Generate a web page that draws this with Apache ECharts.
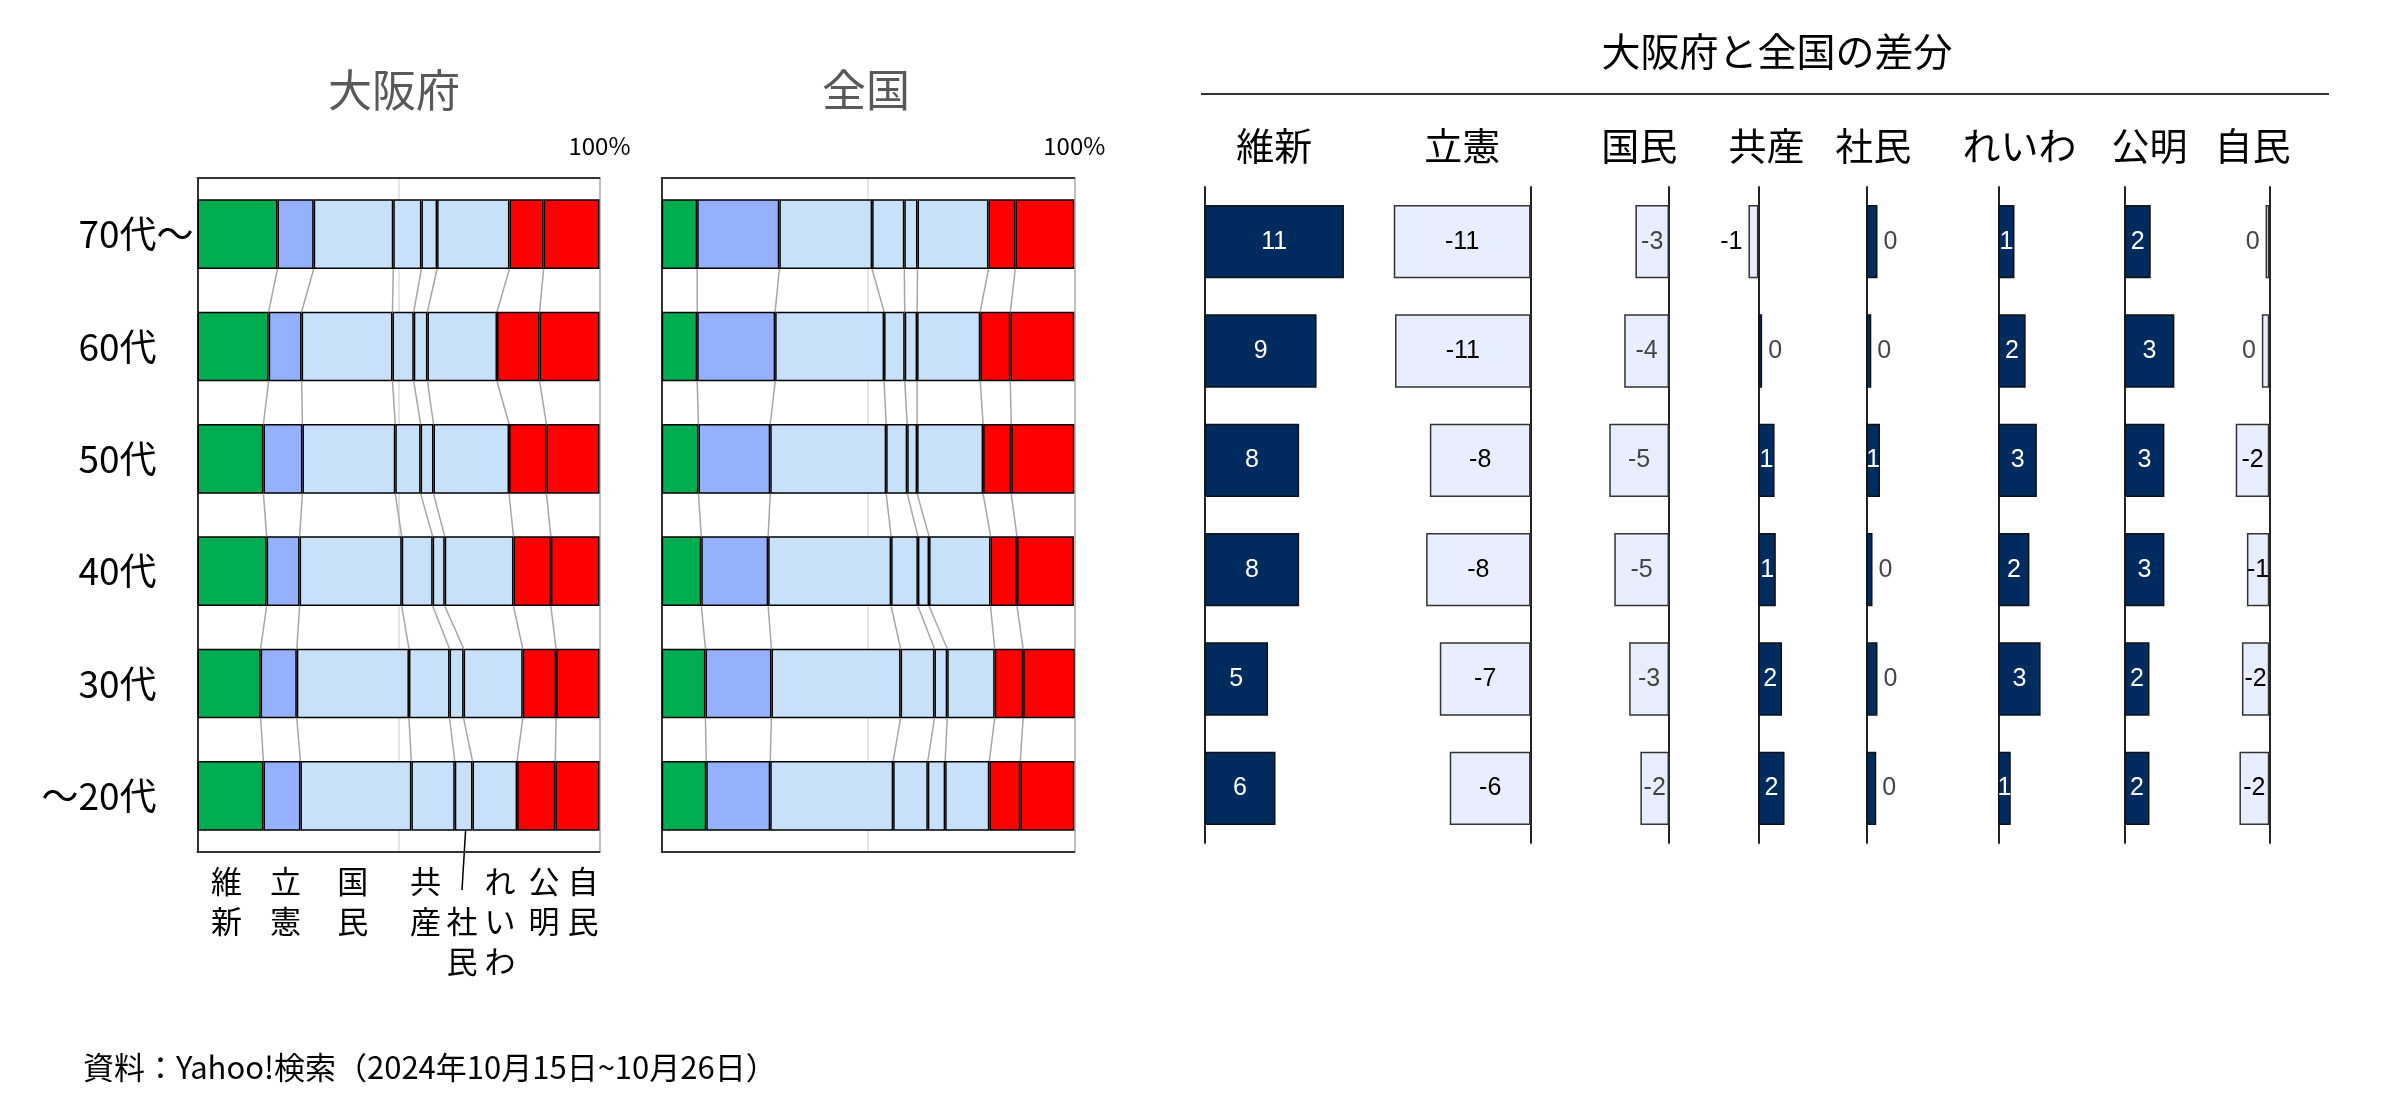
<!DOCTYPE html>
<html>
<head>
<meta charset="utf-8">
<script src="https://cdn.jsdelivr.net/npm/echarts@6/dist/echarts.min.js"></script>
<style>
  body { margin: 0; background: #fff; }
  #chart { width: 2400px; height: 1100px; }
</style>
</head>
<body>
<div id="chart"></div>
<script>
var ages = ['70代～', '60代', '50代', '40代', '30代', '～20代'];
var parties = ['維新', '立憲', '国民', '共産', '社民', 'れいわ', '公明', '自民'];
var partyColors = ['#00AC50', '#94B0FF', '#C8E1FA', '#C8E1FA', '#C8E1FA', '#C8E1FA', '#FF0000', '#FF0000'];

// 大阪府: share of searches by age (%), 70代～ ... ～20代
var osakaIshin  = [19.9, 17.7, 16.4, 17.2, 15.7, 16.4];
var osakaRikken = [9.0, 8.2, 9.7, 8.2, 9.0, 9.2];
var osakaKokumin = [19.8, 22.6, 23.1, 25.4, 27.9, 27.6];
var osakaKyosan = [7.0, 5.3, 6.3, 7.7, 10.1, 10.8];
var osakaShamin = [3.9, 3.4, 3.2, 3.0, 3.5, 4.4];
var osakaReiwa  = [18.0, 17.3, 18.8, 17.1, 14.7, 11.1];
var osakaKomei  = [8.5, 10.6, 9.3, 9.3, 8.3, 9.5];
var osakaJimin  = [13.9, 14.9, 13.2, 12.1, 10.8, 11.0];

// 全国
var zenIshin  = [8.6, 8.6, 8.9, 9.6, 10.6, 10.8];
var zenRikken = [19.9, 18.9, 17.4, 16.2, 16.0, 15.5];
var zenKokumin = [22.5, 26.4, 28.1, 29.8, 31.3, 29.8];
var zenKyosan = [7.8, 5.0, 5.1, 6.5, 8.2, 8.4];
var zenShamin = [3.2, 3.0, 2.4, 2.7, 3.1, 4.2];
var zenReiwa  = [17.2, 15.3, 16.0, 14.9, 11.5, 10.7];
var zenKomei  = [6.5, 7.3, 6.8, 6.4, 6.9, 7.5];
var zenJimin  = [14.3, 15.5, 15.3, 13.8, 12.5, 13.1];

// 大阪府と全国の差分 (points) as drawn, and the numbers printed on the bars
var diffIshin  = [11.2, 9.0, 7.6, 7.6, 5.1, 5.7];
var diffRikken = [-11.0, -10.9, -8.1, -8.4, -7.3, -6.5];
var diffKokumin = [-2.7, -3.6, -4.8, -4.4, -3.2, -2.3];
var diffKyosan = [-0.8, 0.3, 1.3, 1.4, 1.9, 2.1];
var diffShamin = [0.9, 0.4, 1.1, 0.5, 0.9, 0.8];
var diffReiwa  = [1.3, 2.2, 3.1, 2.5, 3.4, 1.0];
var diffKomei  = [2.1, 4.0, 3.2, 3.2, 2.0, 2.0];
var diffJimin  = [-0.3, -0.6, -2.7, -1.8, -2.2, -2.4];

var labelIshin  = [11, 9, 8, 8, 5, 6];
var labelRikken = [-11, -11, -8, -8, -7, -6];
var labelKokumin = [-3, -4, -5, -5, -3, -2];
var labelKyosan = [-1, 0, 1, 1, 2, 2];
var labelShamin = [0, 0, 1, 0, 0, 0];
var labelReiwa  = [1, 2, 3, 2, 3, 1];
var labelKomei  = [2, 3, 3, 3, 2, 2];
var labelJimin  = [0, 0, -2, -1, -2, -2];

var osakaShares = [osakaIshin, osakaRikken, osakaKokumin, osakaKyosan, osakaShamin, osakaReiwa, osakaKomei, osakaJimin];
var zenShares = [zenIshin, zenRikken, zenKokumin, zenKyosan, zenShamin, zenReiwa, zenKomei, zenJimin];
var diffs = [diffIshin, diffRikken, diffKokumin, diffKyosan, diffShamin, diffReiwa, diffKomei, diffJimin];
var diffLabels = [labelIshin, labelRikken, labelKokumin, labelKyosan, labelShamin, labelReiwa, labelKomei, labelJimin];

var JP = "'Noto Sans CJK JP', sans-serif";
var LATIN = "'Liberation Sans', Arial, sans-serif";
var BAR_RATIO = 0.62;
var UNIT = 12.44;          // px per point in the difference panels
var diffZeroX = [1204.6, 1530.6, 1669, 1758.4, 1866.3, 1998.3, 2124.6, 2269.3];
var POS = '#002B5E', NEG = '#E8EEFF';

var chart = echarts.init(document.getElementById('chart'));

var grids = [
    {left: 197.5, top: 178, width: 402, height: 674},
    {left: 661.7, top: 178, width: 412.6, height: 674}
];
var xAxes = [], yAxes = [], series = [];

// boundaries between neighbouring bars, joined by grey lines
function connectorData(shares) {
    var out = [];
    for (var i = 0; i < ages.length - 1; i++) {
        var a = 0, b = 0;
        for (var p = 0; p < parties.length - 1; p++) {
            a += shares[p][i];
            b += shares[p][i + 1];
            out.push([a, b, i]);
        }
    }
    return out;
}

function renderConnector(params, api) {
    var p0 = api.coord([api.value(0), api.value(2)]);
    var p1 = api.coord([api.value(1), api.value(2) + 1]);
    var half = api.size([0, 1])[1] * BAR_RATIO / 2;
    return {
        type: 'line',
        shape: {x1: p0[0], y1: p0[1] + half, x2: p1[0], y2: p1[1] - half},
        style: {stroke: '#A6A6A6', lineWidth: 1.5}
    };
}

// age label: a trailing ～ hangs past the right edge shared by the others
function ageLabel(v) {
    if (v.charAt(v.length - 1) === '～') {
        return '{n|' + v.slice(0, -1) + '}{t|～}';
    }
    return '{p|' + v + '}';
}

[osakaShares, zenShares].forEach(function (shares, g) {
    xAxes.push({
        gridIndex: g, type: 'value', position: 'top', min: 0, max: 100, interval: 50,
        axisLine: {show: true, lineStyle: {color: '#333', width: 2}},
        axisTick: {show: false},
        axisLabel: {
            margin: 20, fontSize: 24, color: '#000', fontFamily: JP,
            formatter: function (v) { return v === 100 ? '100%' : ''; }
        },
        splitLine: {show: true, lineStyle: {color: ['#ccc', '#dcdcdc', '#aaa'], width: 1.5}}
    });
    xAxes.push({
        gridIndex: g, type: 'value', position: 'bottom', min: 0, max: 100,
        axisLine: {show: true, onZero: false, lineStyle: {color: '#333', width: 2}},
        axisTick: {show: false}, axisLabel: {show: false}, splitLine: {show: false}
    });
    yAxes.push({
        gridIndex: g, type: 'category', data: ages, inverse: true,
        axisLine: {show: true, onZero: false, lineStyle: {color: '#333', width: 2}},
        axisTick: {show: false},
        axisLabel: {
            show: g === 0, margin: 4, fontSize: 37, color: '#000', fontFamily: JP,
            formatter: ageLabel,
            rich: {
                n: {fontSize: 37, fontFamily: JP, color: '#000'},
                t: {fontSize: 37, fontFamily: JP, color: '#000', width: 37},
                p: {fontSize: 37, fontFamily: JP, color: '#000', padding: [0, 37, 0, 0]}
            }
        }
    });
    shares.forEach(function (vals, p) {
        series.push({
            type: 'bar', name: parties[p], stack: 'g' + g,
            xAxisIndex: g * 2, yAxisIndex: g,
            barWidth: (BAR_RATIO * 100) + '%',
            data: vals,
            itemStyle: {color: partyColors[p], borderColor: '#000', borderWidth: 1.5},
            z: 3
        });
    });
    series.push({
        type: 'custom', xAxisIndex: g * 2, yAxisIndex: g,
        renderItem: renderConnector,
        encode: {x: [0, 1], y: 2},
        data: connectorData(shares),
        silent: true, z: 2
    });
});

// difference panels, one small grid per party on a common scale
diffs.forEach(function (vals, p) {
    var lo = Math.min.apply(null, [0].concat(vals));
    var hi = Math.max.apply(null, [0].concat(vals));
    var gi = grids.length;
    grids.push({left: diffZeroX[p] + lo * UNIT, top: 187, width: (hi - lo) * UNIT, height: 656});
    xAxes.push({
        gridIndex: gi, type: 'value', position: 'top', min: lo, max: hi,
        axisLine: {show: false}, axisTick: {show: false}, axisLabel: {show: false}, splitLine: {show: false},
        name: parties[p], nameLocation: 'middle', nameGap: 22,
        nameTextStyle: {fontSize: 38, color: '#000', fontFamily: JP}
    });
    yAxes.push({
        gridIndex: gi, type: 'category', data: ages, inverse: true,
        axisLine: {show: true, onZero: true, lineStyle: {color: '#222', width: 2}},
        axisTick: {show: false}, axisLabel: {show: false}, splitLine: {show: false}
    });
    var negText = p === 2 ? '#444' : '#000';
    series.push({
        type: 'bar', xAxisIndex: xAxes.length - 1, yAxisIndex: yAxes.length - 1,
        barWidth: '67%',
        data: vals.map(function (v, i) {
            var lab = diffLabels[p][i];
            var inside = lab !== 0 && Math.abs(v) >= 0.9;
            return {
                value: v,
                itemStyle: v >= 0
                    ? {color: POS, borderColor: '#111', borderWidth: 1.5}
                    : {color: NEG, borderColor: '#333', borderWidth: 1.5},
                label: {
                    show: true,
                    formatter: String(lab),
                    position: inside ? 'inside' : (v >= 0 ? 'right' : 'left'),
                    distance: 6,
                    fontSize: 25, fontFamily: LATIN,
                    color: inside ? (v >= 0 ? '#fff' : negText) : (lab === 0 ? '#444' : '#000')
                }
            };
        })
    });
});

var graphics = [
    {type: 'text', x: 394, y: 90, style: {text: '大阪府', fontSize: 44, fontFamily: JP, fill: '#595959', textAlign: 'center', textVerticalAlign: 'middle'}},
    {type: 'text', x: 866, y: 90, style: {text: '全国', fontSize: 44, fontFamily: JP, fill: '#595959', textAlign: 'center', textVerticalAlign: 'middle'}},
    {type: 'text', x: 1777, y: 51, style: {text: '大阪府と全国の差分', fontSize: 39, fontFamily: JP, fill: '#000', textAlign: 'center', textVerticalAlign: 'middle'}},
    {type: 'line', shape: {x1: 1201, y1: 94, x2: 2329, y2: 94}, style: {stroke: '#333', lineWidth: 2}},
    {type: 'line', shape: {x1: 467, y1: 807, x2: 462, y2: 890}, style: {stroke: '#000', lineWidth: 1.5}},
    {type: 'text', x: 83, y: 1067, style: {text: '資料：Yahoo!検索（2024年10月15日~10月26日）', fontSize: 31, fontFamily: JP, fill: '#000', textVerticalAlign: 'middle'}}
];

// party names under the 大阪府 bars, written vertically
var underLabels = [
    ['維\n新', 226.5, 0], ['立\n憲', 285.5, 0], ['国\n民', 352.7, 0], ['共\n産', 425.4, 0],
    ['社\n民', 462, 1], ['れ\nい\nわ', 500, 0], ['公\n明', 544, 0], ['自\n民', 583, 0]
];
underLabels.forEach(function (u) {
    graphics.push({
        type: 'text', x: u[1], y: 861 + u[2] * 40,
        style: {text: u[0], fontSize: 31, lineHeight: 40, fontFamily: JP, fill: '#000', textAlign: 'center', textVerticalAlign: 'top'}
    });
});

var option = {
    animation: false,
    textStyle: {fontFamily: JP},
    grid: grids,
    xAxis: xAxes,
    yAxis: yAxes,
    series: series,
    graphic: graphics
};

chart.setOption(option);
</script>
</body>
</html>
